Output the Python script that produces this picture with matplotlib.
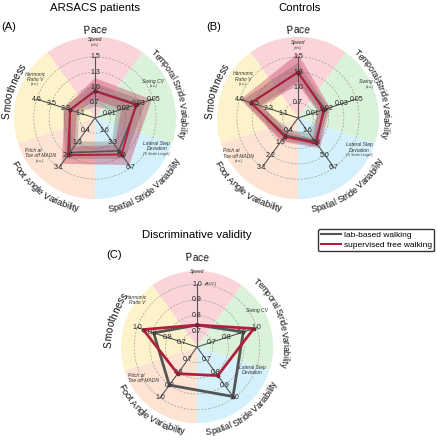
import numpy as np
import matplotlib.pyplot as plt
from matplotlib.path import Path
from matplotlib.patches import PathPatch
from matplotlib.lines import Line2D
from matplotlib.textpath import TextToPath
from matplotlib.font_manager import FontProperties

plt.rcParams["font.family"] = "Liberation Sans"

W, H, DPI = 437, 440, 100

domains = ["Pace", "Temporal Stride Variability", "Spatial Stride Variability",
           "Foot Angle Variability", "Smoothness"]
domain_colors = ["#fad4d9", "#d9f2d9", "#d4f1fb", "#fde3d3", "#fdf3cb"]
domain_sizes = [7.2, 6.3, 6.6, 6.8, 7.2]
domain_track = [1.0, 0.92, 0.96, 0.96, 1.0]

metric_names = ["Speed", "Swing CV", "Lateral Step\nDeviation",
                "Pitch at\nToe off MADN", "Harmonic\nRatio V"]
metric_units = ["(m/s)", "(a.u.)", "(% Stride Length)", "(a.u.)", "(a.u.)"]

# value at the centre / at the outer ring of each metric axis (panels A and B)
scale_lo = np.array([0.42, 0.0, 0.0, -0.5, 0.0])
scale_hi = np.array([1.54, 0.046, 6.68, 3.1, 4.6])
tick_labels = [["0.7", "1.0", "1.3", "1.5"],
               ["0.01", "0.02", "0.03", "0.05"],
               ["1.6", "3.3", "5.0", "6.7"],
               ["0.4", "1.3", "2.2", "3.1"],
               ["1.1", "2.3", "3.5", "4.6"]]
auc_lo, auc_hi = 0.6, 1.0
auc_ticks = ["0.7", "0.8", "0.9", "1.0"]

# ARSACS patients
ars_lab = [0.92, 0.0334, 4.43, 2.02, 2.01]
ars_lab_low = [0.63, 0.0167, 3.17, 1.21, 1.27]
ars_lab_high = [1.06, 0.0403, 5.51, 2.47, 2.53]
ars_free = [0.91, 0.0322, 4.93, 2.20, 1.96]
ars_free_low = [0.76, 0.0207, 3.67, 1.57, 1.44]
ars_free_high = [1.15, 0.0449, 6.35, 2.83, 2.42]

# Controls
ctl_lab = [1.25, 0.0213, 3.17, 0.76, 3.74]
ctl_lab_low = [1.09, 0.0167, 2.09, 0.355, 2.99]
ctl_lab_high = [1.43, 0.0236, 3.84, 1.12, 4.37]
ctl_free = [1.26, 0.0201, 3.42, 0.85, 3.68]
ctl_free_low = [1.04, 0.0155, 2.76, 0.535, 2.82]
ctl_free_high = [1.60, 0.0253, 4.09, 1.21, 4.54]

# Discriminative validity (AUC)
auc_lab = [0.74, 0.91, 0.99, 0.90, 0.89]
auc_free = [0.74, 0.98, 0.825, 0.81, 0.96]

LAB_C = "#555555"
FREE_C = "#b01f3c"
RMAX = 6.7
theta = np.deg2rad(np.arange(5) * 72)
ttp = TextToPath()

fig = plt.figure(figsize=(W / DPI, H / DPI), dpi=DPI)


def closed(a):
    a = np.asarray(a, float)
    return np.r_[a, a[:1]]


def to_r(v, lo, hi):
    return 4 * (np.asarray(v, float) - lo) / (hi - lo)


def adv(s, fp):
    w = ttp.get_text_width_height_descent("I" + s + "I", fp, ismath=False)[0]
    w0 = ttp.get_text_width_height_descent("II", fp, ismath=False)[0]
    return (w - w0) * DPI / 72


def curved(ax, text, th_c, r, unit, size, track):
    fp = FontProperties(family="Liberation Sans", size=size)
    total = adv(text, fp)
    upper = np.cos(np.deg2rad(th_c)) > 0
    for i, ch in enumerate(text):
        s = track * (adv(text[:i], fp) + adv(ch, fp) / 2 - total / 2)
        d = np.rad2deg(s / (r * unit))
        if upper:
            th = th_c + d
            rot = -th
        else:
            th = th_c - d
            rot = 180 - th
        ax.text(np.deg2rad(th), r, ch, rotation=rot, rotation_mode="anchor",
                ha="center", va="baseline", fontsize=size, color="#111")


def panel(cx, cy, unit, disk, ticks, label_pos, units, r_out):
    R = RMAX * unit
    ax = fig.add_axes([(cx - R) / W, (H - cy - R) / H, 2 * R / W, 2 * R / H],
                      projection="polar")
    ax.set_theta_offset(np.pi / 2)
    ax.set_theta_direction(-1)
    ax.set_ylim(0, RMAX)
    ax.axis("off")

    ax.bar(theta, disk, width=2 * np.pi / 5, bottom=0, color=domain_colors,
           edgecolor="none", zorder=0)
    t = np.linspace(0, 2 * np.pi, 300)
    for k in range(1, 5):
        ax.plot(t, np.full_like(t, k), ls=(0, (3, 2)), color="#a0a0a0", lw=0.5, zorder=1)

    for i in range(5):
        ax.plot([theta[i], theta[i]], [0, 4], color="#555555", lw=0.8, zorder=3)
        for k in range(4):
            ax.text(theta[i], k + 1, ticks[i][k], ha="center", va="center",
                    fontsize=5, color="#222", zorder=4)

    for i in range(5):
        th, r = label_pos[i]
        ma = "left" if i == 3 else "center"
        name = ax.text(np.deg2rad(th), r, metric_names[i], ha="center", va="center",
                       fontsize=3.6, style="italic", color="#333",
                       multialignment=ma, linespacing=1.1)
        if units:
            ax.annotate(units[i], xy=(0.5, 0), xycoords=name, xytext=(0, -0.3),
                        textcoords="offset points", ha="center", va="top",
                        fontsize=2.4, style="italic", color="#333")

    for i in range(5):
        curved(ax, domains[i], i * 72, r_out[i], unit, domain_sizes[i], domain_track[i])
    return ax


def series(ax, r, color, lw, zo):
    ax.plot(closed(theta), closed(r), color=color, lw=lw, zorder=zo,
            marker="o", ms=2.2, mfc=color, mec="#222", mew=0.4)


def band(ax, lo_r, hi_r, color, alpha):
    t = closed(theta)
    verts = np.vstack([np.column_stack([t, closed(hi_r)]),
                       np.column_stack([t[::-1], closed(lo_r)[::-1]])])
    codes = ([Path.MOVETO] + [Path.LINETO] * 5) * 2
    ax.add_patch(PathPatch(Path(verts, codes), facecolor=color, alpha=alpha,
                           edgecolor="none", zorder=2))


pos_a = [(0, 5.1), (58, 4.5), (114.4, 4.43), (237.3, 4.27), (304.5, 4.76)]
pos_b = [(0, 4.92), (63.1, 5.25), (115.6, 4.47), (239.1, 4.5), (307, 4.5)]
pos_c = [(0, 4.84), (58.5, 4.5), (112.2, 3.83), (239.8, 3.96), (307.8, 4.86)]

groups = [
    (95, 118, ars_lab, ars_lab_low, ars_lab_high, ars_free, ars_free_low, ars_free_high, pos_a),
    (298, 118, ctl_lab, ctl_lab_low, ctl_lab_high, ctl_free, ctl_free_low, ctl_free_high, pos_b),
]
for cx, cy, lab, lab_lo, lab_hi, free, free_lo, free_hi, pos in groups:
    ax = panel(cx, cy, 15.3, 5.3, tick_labels, pos, metric_units,
               [5.56, 5.56, 6.2, 6.2, 5.56])
    band(ax, to_r(lab_lo, scale_lo, scale_hi), to_r(lab_hi, scale_lo, scale_hi), "#707070", 0.35)
    band(ax, to_r(free_lo, scale_lo, scale_hi), to_r(free_hi, scale_lo, scale_hi), "#c02c50", 0.35)
    series(ax, to_r(lab, scale_lo, scale_hi), LAB_C, 1.2, 5)
    series(ax, to_r(free, scale_lo, scale_hi), FREE_C, 1.4, 6)

axc = panel(197, 347, 15.7, 4.85, [auc_ticks] * 5, pos_c, None,
            [5.5, 5.45, 5.6, 5.6, 5.45])
axc.annotate("(AUC)", xy=(0, 4), xytext=(5.5, 0), textcoords="offset points",
             ha="left", va="center", fontsize=3.2, style="italic", color="#333")
series(axc, to_r(auc_lab, auc_lo, auc_hi), LAB_C, 2.0, 5)
series(axc, to_r(auc_free, auc_lo, auc_hi), FREE_C, 2.0, 6)

fig.text(95 / W, 1 - 8 / H, "ARSACS patients", ha="center", va="center", fontsize=8.2)
fig.text(300 / W, 1 - 8 / H, "Controls", ha="center", va="center", fontsize=8.2)
fig.text(197 / W, 1 - 235 / H, "Discriminative validity", ha="center", va="center", fontsize=8.2)
fig.text(1 / W, 1 - 27 / H, "(A)", ha="left", va="center", fontsize=8)
fig.text(206 / W, 1 - 27 / H, "(B)", ha="left", va="center", fontsize=8)
fig.text(106 / W, 1 - 255 / H, "(C)", ha="left", va="center", fontsize=8)

handles = [Line2D([], [], color=LAB_C, lw=1.5), Line2D([], [], color=FREE_C, lw=1.5)]
fig.legend(handles, ["lab-based walking", "supervised free walking"],
           loc="upper left", bbox_to_anchor=(318 / W, 1 - 229 / H), fontsize=6,
           frameon=True, edgecolor="#333", fancybox=True, framealpha=1,
           handlelength=2.4, borderpad=0.3, labelspacing=0.2, handletextpad=0.4,
           borderaxespad=0)

fig.savefig("out.png", dpi=DPI)
